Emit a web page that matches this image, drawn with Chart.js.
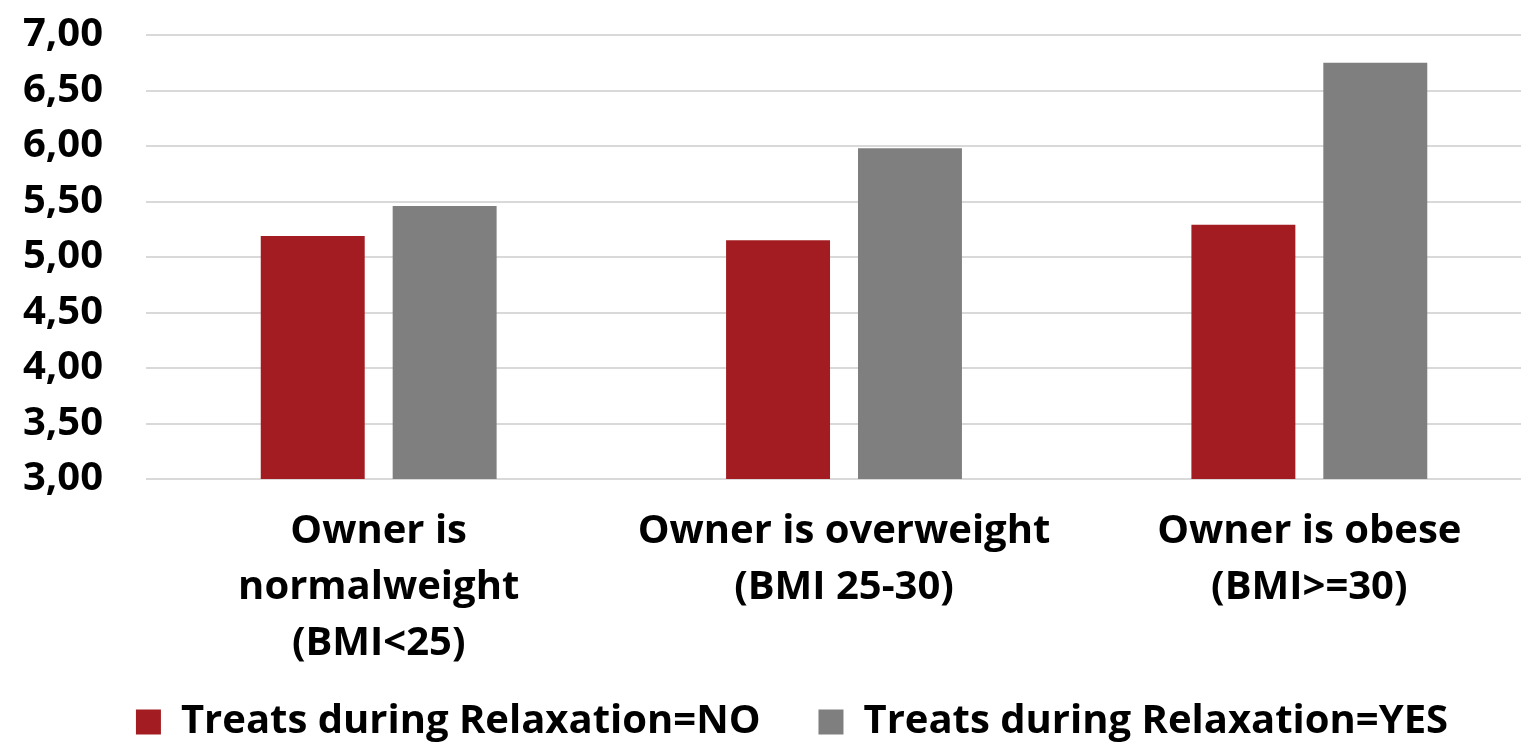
<!DOCTYPE html>
<html>
<head>
<meta charset="utf-8">
<script src="https://cdn.jsdelivr.net/npm/chart.js@4.4.1/dist/chart.umd.min.js"></script>
<style>
  html, body { margin:0; padding:0; background:#fff; overflow:hidden; }
  #wrap { position:relative; top:-32px; left:-20px; width:1562px; height:829px; }
</style>
</head>
<body>
<div id="wrap"><canvas id="chart"></canvas></div>
<script>
const categories = [
  ['Owner is', 'normalweight', '(BMI<25)'],
  ['Owner is overweight', '(BMI 25-30)'],
  ['Owner is obese', '(BMI>=30)']
];
const seriesNames = ['Treats during Relaxation=NO', 'Treats during Relaxation=YES'];
const treatsNo  = [5.19, 5.15, 5.29];
const treatsYes = [5.46, 5.98, 6.75];
const yMin = 3, yMax = 7, yStep = 0.5;

const font = { family: "'Open Sans', 'Noto Sans', sans-serif", size: 40, weight: 'bold' };

// nudge the legend closer to the axis labels, like the original
const legendShift = {
  id: 'legendShift',
  afterLayout(chart) {
    const l = chart.legend;
    l.top -= 45; l.bottom -= 45;
    l.left += 31; l.right += 31;
  }
};

new Chart(document.getElementById('chart'), {
  type: 'bar',
  data: {
    labels: categories,
    datasets: [
      { label: seriesNames[0], data: treatsNo,  backgroundColor: '#A31C21', categoryPercentage: 0.567, barPercentage: 0.788 },
      { label: seriesNames[1], data: treatsYes, backgroundColor: '#7F7F7F', categoryPercentage: 0.567, barPercentage: 0.788 }
    ]
  },
  options: {
    responsive: true,
    maintainAspectRatio: false,
    animation: false,
    plugins: {
      tooltip: { enabled: false },
      legend: {
        position: 'bottom',
        labels: { color: '#000', font: font, boxWidth: 25, boxHeight: 25, padding: 58 }
      }
    },
    scales: {
      x: {
        grid: { display: false },
        border: { display: false },
        ticks: { color: '#000', font: { ...font, lineHeight: 1.4 }, maxRotation: 0, autoSkip: false, padding: 17 }
      },
      y: {
        min: yMin, max: yMax,
        grid: { color: '#d9d9d9', lineWidth: 2, drawTicks: false },
        border: { display: false },
        ticks: {
          stepSize: yStep, color: '#000', font: font, padding: 43,
          callback: v => v.toFixed(2).replace('.', ',')
        }
      }
    }
  },
  plugins: [legendShift]
});
</script>
</body>
</html>
